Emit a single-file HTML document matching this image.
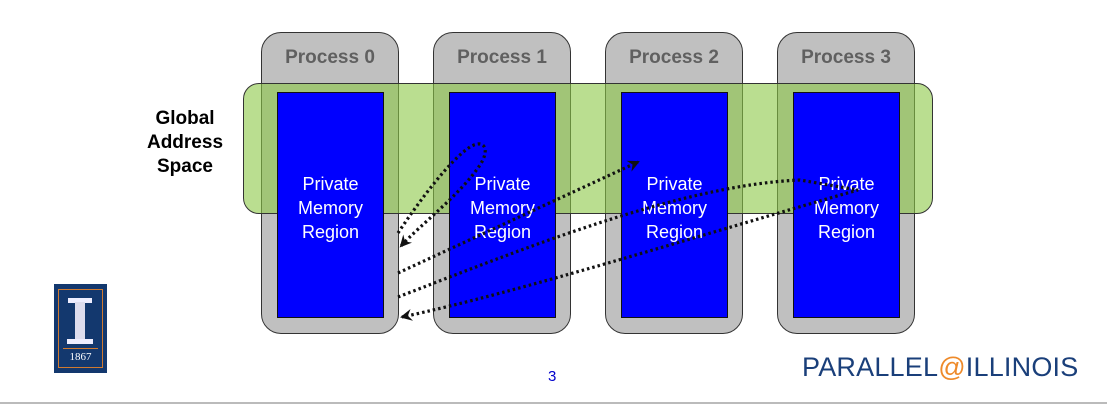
<!DOCTYPE html>
<html><head><style>
body{margin:0;width:1107px;height:405px;background:#fff;overflow:hidden;font-family:"Liberation Sans",sans-serif;position:relative}
.proc{position:absolute;top:32px;width:138px;height:302px;background:#c0c0c0;border:1.5px solid #333;border-radius:20px;box-sizing:border-box}
.proc span{display:block;text-align:center;margin-top:14px;font-weight:bold;font-size:19px;color:#606060}
.green{position:absolute;left:243px;top:83px;width:690px;height:131px;background:rgba(140,200,70,0.6);border:1.5px solid #333;border-radius:16px;box-sizing:border-box}
.blue{position:absolute;top:92px;width:107px;height:226px;background:#0000ff;border:1.5px solid #111;box-sizing:border-box;color:#fff;font-size:18px;text-align:center;line-height:24px;padding-top:79px}
</style></head><body>
<div class="proc" style="left:261px"><span>Process 0</span></div>
<div class="proc" style="left:433px"><span>Process 1</span></div>
<div class="proc" style="left:605px"><span>Process 2</span></div>
<div class="proc" style="left:777px"><span>Process 3</span></div>
<div class="green"></div>
<div class="blue" style="left:277px">Private<br>Memory<br>Region</div>
<div class="blue" style="left:449px">Private<br>Memory<br>Region</div>
<div class="blue" style="left:621px">Private<br>Memory<br>Region</div>
<div class="blue" style="left:793px">Private<br>Memory<br>Region</div>
<div style="position:absolute;left:130px;top:107px;width:110px;text-align:center;font-weight:bold;font-size:19px;line-height:24px;color:#000">Global<br>Address<br>Space</div>
<svg style="position:absolute;left:0;top:0" width="1107" height="405">
<defs><marker id="a" markerWidth="12" markerHeight="12" refX="10" refY="6" orient="auto" markerUnits="userSpaceOnUse"><path d="M0,0 L12,6 L0,12 L4,6z" fill="#111"/></marker></defs>
<g fill="none" stroke="#111" stroke-width="3.2" stroke-dasharray="2.5,3">
<path d="M398,233 C420,200 450,160 470,147 C485,138 490,150 480,165 C460,195 420,225 401,246" marker-end="url(#a)"/>
<path d="M398,273 L638,162" marker-end="url(#a)"/>
<path d="M398,297 C520,250 680,185 800,180 L858,190 C700,235 520,292 402,317" marker-end="url(#a)"/>
</g>
</svg>
<div style="position:absolute;left:54px;top:284px;width:53px;height:89px;background:#13386e">
<div style="position:absolute;left:4px;top:5px;width:43px;height:77px;border:1.5px solid #d07a30"></div>
<div style="position:absolute;left:14px;top:14px;width:24px;height:5px;background:#eef"></div>
<div style="position:absolute;left:21px;top:18px;width:10px;height:38px;background:#dde"></div>
<div style="position:absolute;left:13px;top:55px;width:26px;height:5px;background:#eef"></div>
<div style="position:absolute;left:9px;top:64px;width:35px;height:1px;background:#d07a30"></div>
<div style="position:absolute;left:0;top:67px;width:53px;text-align:center;color:#fff;font-family:'Liberation Serif',serif;font-size:11px">1867</div>
</div>
<div style="position:absolute;left:548px;top:368px;font-size:15px;color:#0000cc">3</div>
<div style="position:absolute;left:802px;top:352px;font-size:27px;color:#1a3f7a;letter-spacing:0.2px;white-space:nowrap">PARALLEL<span style="color:#ee8a2a">@</span>ILLINOIS</div>
<div style="position:absolute;left:0;top:402px;width:1107px;height:2px;background:#bbb"></div>
</body></html>
